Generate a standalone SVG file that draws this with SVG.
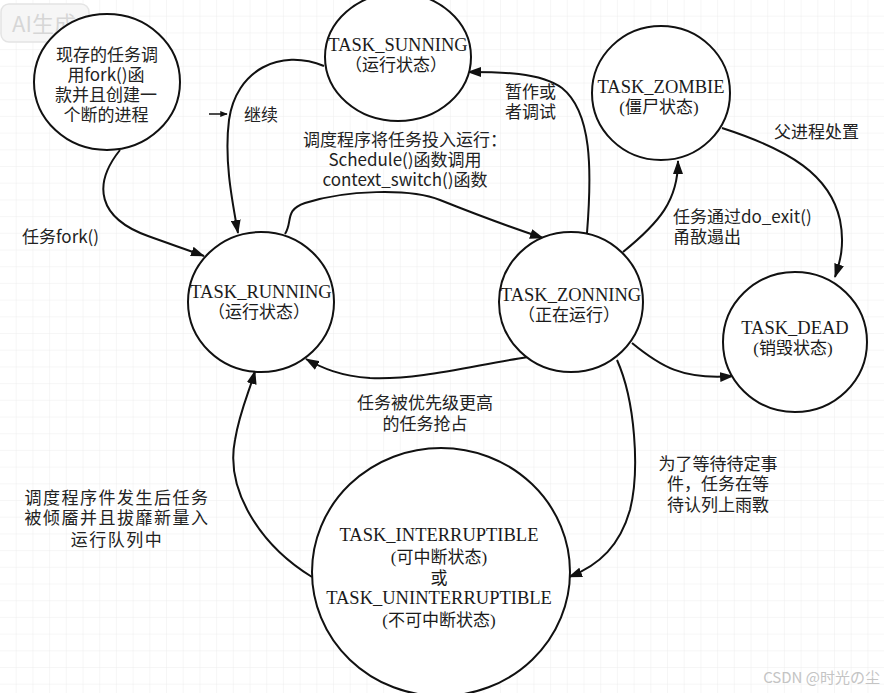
<svg xmlns="http://www.w3.org/2000/svg" width="884" height="693" viewBox="0 0 884 693">
<defs>
<pattern id="grid" width="16.7" height="16.7" patternUnits="userSpaceOnUse">
<path d="M16.7 0 V16.7 M0 16.7 H16.7" fill="none" stroke="#ededed" stroke-width="1"/>
</pattern>
<marker id="arr" viewBox="0 0 14 10" refX="13" refY="5" markerWidth="14" markerHeight="10" markerUnits="userSpaceOnUse" orient="auto">
<path d="M0 0 L14 5 L0 10 Z" fill="#111"/>
</marker>
<marker id="arrs" viewBox="0 0 10 8" refX="9" refY="4" markerWidth="8" markerHeight="6" markerUnits="userSpaceOnUse" orient="auto">
<path d="M0 0 L10 4 L0 8 Z" fill="#111"/>
</marker>
</defs>
<style>
.node{fill:#fff;stroke:#111;stroke-width:2}
.nt{font-family:"Liberation Serif","Noto Sans CJK SC",serif;font-size:18.5px;fill:#1a1a1a;text-anchor:middle}
.nc{font-family:"Liberation Serif","Noto Sans CJK SC",serif;font-size:17px;fill:#1a1a1a;text-anchor:middle}
.lb{font-family:"Noto Sans CJK SC","Noto Sans",sans-serif;font-size:17px;fill:#222;text-anchor:middle}
.lbl{font-family:"Noto Sans CJK SC","Noto Sans",sans-serif;font-size:17px;fill:#222;text-anchor:start}
.edge{fill:none;stroke:#111;stroke-width:2;marker-end:url(#arr)}
</style>
<rect width="884" height="693" fill="#fff"/>
<rect width="884" height="693" fill="url(#grid)"/>
<g id="watermark-ai">
<rect x="1" y="4" width="88" height="38" rx="8" fill="#f6f6f6" stroke="#e4e4e4" stroke-width="1.5"/>
<text x="44" y="32" font-family="Noto Sans CJK SC,Noto Sans,sans-serif" font-size="22" fill="#d6d6d6" text-anchor="middle">AI生成</text>
</g>

<g id="connectors">
<path class="edge" d="M120,150 C 92,185 98,218 148,236 C 170,244 188,250 204,256"/>
<path class="edge" d="M324,66 C 280,48 236,70 229,120 C 224,160 232,200 238,233"/>
<path class="edge" d="M285,234 C 293,222 284,210 305,203 C 345,190 410,188 440,200 C 480,216 510,227 543,238"/>
<path class="edge" d="M587,233 C 592,170 592,112 562,88 C 540,72 500,72 468,72"/>
<path class="edge" d="M623,252 C 660,222 678,200 678,161"/>
<path class="edge" d="M722,128 C 790,150 830,175 840,220 C 845,245 840,262 835,277"/>
<path class="edge" d="M632,343 C 660,366 682,380 733,376"/>
<path class="edge" d="M528,357 C 470,366 420,380 370,378 C 340,376 322,368 306,359"/>
<path class="edge" d="M617,360 C 635,400 640,470 630,510 C 620,545 600,565 569,577"/>
<path class="edge" d="M312,577 C 260,545 225,490 235,440 C 240,410 250,390 255,371"/>
<path fill="none" stroke="#111" stroke-width="1.5" marker-end="url(#arrs)" d="M209,114 H227"/>
</g>

<g id="node-fork">
<ellipse class="node" cx="107" cy="82" rx="73" ry="68"/>
<text class="lb" x="107" y="61">现存的任务调</text>
<text class="lb" x="106" y="81">用fork()函</text>
<text class="lb" x="106" y="101">款并且创建一</text>
<text class="lb" x="106" y="121">个断的进程</text>
</g>

<g id="node-sunning">
<ellipse class="node" cx="398" cy="57" rx="73" ry="64"/>
<text class="nt" x="398" y="51">TASK_SUNNING</text>
<text class="nc" x="396" y="71">（运行状态）</text>
</g>

<g id="node-zombie">
<ellipse class="node" cx="661" cy="93" rx="69" ry="67"/>
<text class="nt" x="661" y="93">TASK_ZOMBIE</text>
<text class="nc" x="659" y="113">(僵尸状态)</text>
</g>

<g id="node-running">
<ellipse class="node" cx="261" cy="302" rx="73" ry="70"/>
<text class="nt" x="261" y="298">TASK_RUNNING</text>
<text class="nc" x="259" y="318">（运行状态）</text>
</g>

<g id="node-zonning">
<ellipse class="node" cx="571" cy="302" rx="72" ry="70"/>
<text class="nt" x="571" y="301">TASK_ZONNING</text>
<text class="nc" x="569" y="321">（正在运行）</text>
</g>

<g id="node-dead">
<ellipse class="node" cx="795" cy="342" rx="72" ry="70"/>
<text class="nt" x="795" y="334">TASK_DEAD</text>
<text class="nc" x="793" y="354">(销毁状态)</text>
</g>

<g id="node-interruptible">
<ellipse class="node" cx="441" cy="572" rx="129" ry="124"/>
<text class="nt" x="439" y="541">TASK_INTERRUPTIBLE</text>
<text class="nc" x="439" y="563">(可中断状态)</text>
<text class="nc" x="439" y="584">或</text>
<text class="nt" x="439" y="604">TASK_UNINTERRUPTIBLE</text>
<text class="nc" x="439" y="626">(不可中断状态)</text>
</g>

<g id="labels">
<text class="lbl" x="22" y="243">任务fork()</text>
<text class="lbl" x="244" y="121">继续</text>
<text class="lb" x="405" y="146" font-size="17.5">调度程序将任务投入运行：</text>
<text class="lb" x="405" y="166">Schedule()函数调用</text>
<text class="lb" x="405" y="186">context_switch()函数</text>
<text class="lbl" x="505" y="98">暂作或</text>
<text class="lbl" x="505" y="118">者调试</text>
<text class="lbl" x="673" y="223">任务通过do_exit()</text>
<text class="lbl" x="673" y="243">甬敔遢出</text>
<text class="lbl" x="774" y="138">父进程处置</text>
<text class="lb" x="425" y="409" font-size="17.5">任务被优先级更高</text>
<text class="lb" x="425" y="430" font-size="17.5">的任务抢占</text>
<text class="lb" x="718" y="470">为了等待待定事</text>
<text class="lb" x="718" y="490">件，任务在等</text>
<text class="lb" x="718" y="511">待认列上雨斁</text>
<text class="lb" x="117" y="504" letter-spacing="1.5">调度程序件发生后任务</text>
<text class="lb" x="117" y="524" letter-spacing="1.5">被倾靥并且拔靡新量入</text>
<text class="lb" x="117" y="546" letter-spacing="1.5">运行队列中</text>
</g>

<g id="watermark-csdn">
<text x="880" y="683" font-family="Noto Sans CJK SC,Noto Sans,sans-serif" font-size="15" fill="#c4c4c4" text-anchor="end">CSDN @时光の尘</text>
</g>
</svg>
